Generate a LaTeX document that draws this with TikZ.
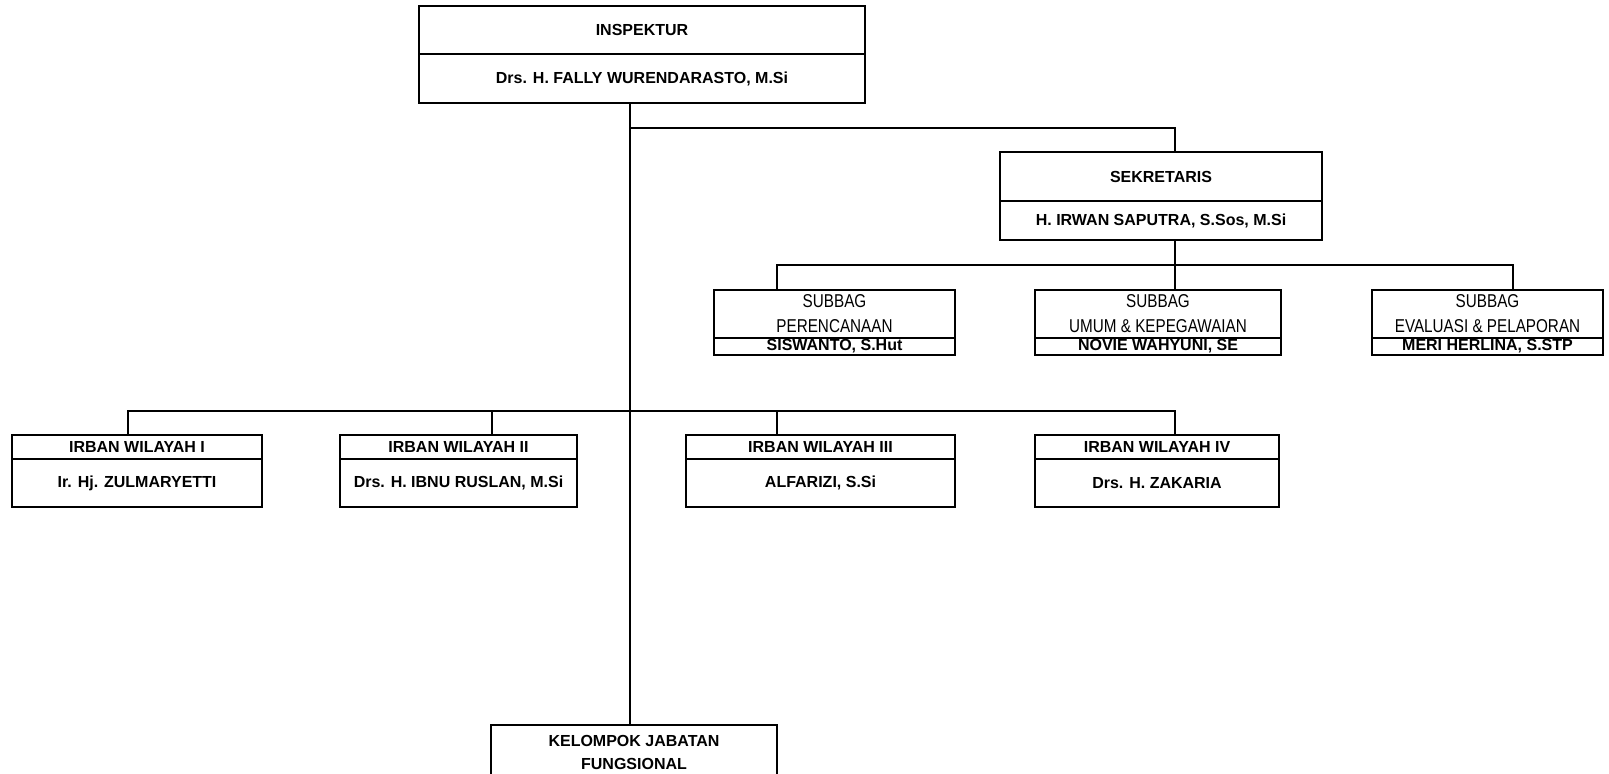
\documentclass[tikz,border=0pt]{standalone}
\usepackage{fontspec}
\setmainfont{Liberation Sans}
\newfontfamily\narrowsans[FakeStretch=0.82]{Liberation Sans}
\usepackage{tikz}
\usetikzlibrary{positioning}
\tikzset{
  box/.style={rectangle, draw=black, fill=white, inner sep=0pt, outer sep=0pt,
    line width=1.2pt, align=center},
  hdr/.style={box, font=\fontsize{8}{9.6}\selectfont\bfseries},
  sub/.style={box, font=\narrowsans\fontsize{9.3}{12.5}\selectfont},
  line/.style={line width=1.1pt, color=black}
}

\begin{document}
\begin{tikzpicture}[x=0.5pt, y=-0.5pt]
  \useasboundingbox (0,0) rectangle (1609,773);

  % ── Inspektur ───────────────────────────────────────────────────────────
  \node[hdr, minimum width=223pt, minimum height=24pt] (insp) at (642,30) {INSPEKTUR};
  \node[hdr, minimum width=223pt, minimum height=24.5pt, below=0pt of insp] (inspname)
    {Drs. H. FALLY WURENDARASTO, M.Si};

  % ── Sekretaris ──────────────────────────────────────────────────────────
  \node[hdr, minimum width=161pt, minimum height=24.5pt] (sekr) at (1161,176.5) {SEKRETARIS};
  \node[hdr, minimum width=161pt, minimum height=19.5pt, below=0pt of sekr] (sekrname)
    {H. IRWAN SAPUTRA, S.Sos, M.Si};

  % ── Subbag row ──────────────────────────────────────────────────────────
  \node[sub, minimum width=120.5pt, minimum height=24pt] (sub1) at (834.5,314) {SUBBAG\\PERENCANAAN};
  \node[hdr, minimum width=120.5pt, minimum height=8.5pt, below=0pt of sub1] (sub1name) {SISWANTO, S.Hut};
  \node[sub, minimum width=123pt, minimum height=24pt] (sub2) at (1158,314) {SUBBAG\\UMUM \& KEPEGAWAIAN};
  \node[hdr, minimum width=123pt, minimum height=8.5pt, below=0pt of sub2] (sub2name) {NOVIE WAHYUNI, SE};
  \node[sub, minimum width=115.5pt, minimum height=24pt] (sub3) at (1487.5,314) {SUBBAG\\EVALUASI \& PELAPORAN};
  \node[hdr, minimum width=115.5pt, minimum height=8.5pt, below=0pt of sub3] (sub3name) {MERI HERLINA, S.STP};

  % ── Irban row ───────────────────────────────────────────────────────────
  \node[hdr, minimum width=125pt, minimum height=12pt] (irb1) at (137,447) {IRBAN WILAYAH I};
  \node[hdr, minimum width=125pt, minimum height=24pt, below=0pt of irb1] (irb1name) {Ir. Hj. ZULMARYETTI};
  \node[hdr, minimum width=118.5pt, minimum height=12pt] (irb2) at (458.5,447) {IRBAN WILAYAH II};
  \node[hdr, minimum width=118.5pt, minimum height=24pt, below=0pt of irb2] (irb2name) {Drs. H. IBNU RUSLAN, M.Si};
  \node[hdr, minimum width=134.5pt, minimum height=12pt] (irb3) at (820.5,447) {IRBAN WILAYAH III};
  \node[hdr, minimum width=134.5pt, minimum height=24pt, below=0pt of irb3] (irb3name) {ALFARIZI, S.Si};
  \node[hdr, minimum width=122pt, minimum height=12pt] (irb4) at (1157,447) {IRBAN WILAYAH IV};
  \node[hdr, minimum width=122pt, minimum height=24pt, below=0pt of irb4] (irb4name) {Drs. H. ZAKARIA};

  % ── Kelompok jabatan fungsional ─────────────────────────────────────────
  \node[hdr, minimum width=143pt, minimum height=27pt, font=\fontsize{8}{11.5}\selectfont\bfseries]
    (kjf) at (634,752) {KELOMPOK JABATAN\\FUNGSIONAL};

  % ── Junctions ───────────────────────────────────────────────────────────
  \coordinate (jsek) at (630,128);
  \coordinate (ksek) at (1175,128);
  \coordinate (jsub) at (1175,265);
  \coordinate (b1)   at (777,265);
  \coordinate (b3)   at (1513,265);
  \coordinate (c1)   at (128,411);
  \coordinate (c2)   at (492,411);
  \coordinate (c3)   at (777,411);
  \coordinate (c4)   at (1175,411);

  % ── Spine: Inspektur → Kelompok ─────────────────────────────────────────
  \draw[line] (inspname.south -| jsek) -- (kjf.north -| jsek);

  % ── Inspektur → Sekretaris → Subbag ─────────────────────────────────────
  \draw[line] (jsek) -| (sekr.north -| ksek);
  \draw[line] (sekrname.south -| jsub) -- (sub2.north -| jsub);
  \draw[line] (sub1.north -| b1) -- (b1) -- (b3) -- (sub3.north -| b3);

  % ── Irban bus ───────────────────────────────────────────────────────────
  \draw[line] (irb1.north -| c1) -- (c1) -- (c4) -- (irb4.north -| c4);
  \draw[line] (c2) -- (irb2.north -| c2);
  \draw[line] (c3) -- (irb3.north -| c3);
\end{tikzpicture}
\end{document}
